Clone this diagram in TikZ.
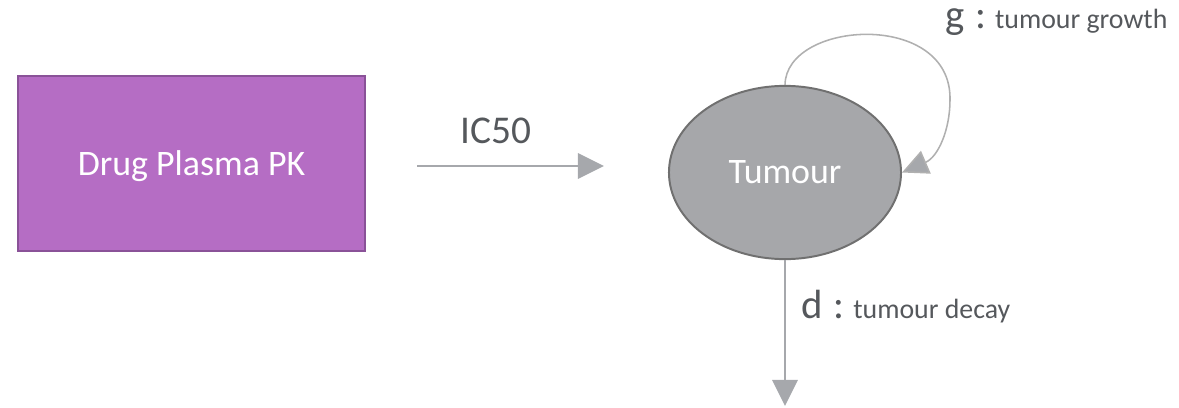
\documentclass[tikz,border=0pt]{standalone}
\usepackage{fontspec}
\setmainfont{Carlito}
\usetikzlibrary{arrows.meta,positioning,shapes.geometric}
\definecolor{pkpurple}{RGB}{181,109,196}
\definecolor{pkpurpledk}{RGB}{138,82,152}
\definecolor{tmgray}{RGB}{166,167,170}
\definecolor{tmgraydk}{RGB}{112,112,112}
\definecolor{flowgray}{RGB}{166,168,172}
\definecolor{loopgray}{RGB}{176,176,176}
\definecolor{txtgray}{RGB}{85,88,92}
\newcommand{\bigtxt}{\fontsize{25.5}{30}\selectfont}
\newcommand{\lbltxt}{\fontsize{29}{34}\selectfont}
\newcommand{\smalltxt}{\fontsize{19.8}{24}\selectfont}
\newcommand{\ratelbl}[2]{{\lbltxt #1}\hspace{8pt}{\lbltxt :}\hspace{6pt}{\smalltxt #2}}
\tikzset{
  pkbox/.style={draw=pkpurpledk, line width=1.4pt, fill=pkpurple, text=white,
                font=\bigtxt, minimum width=8.675cm, minimum height=4.375cm,
                inner sep=0pt, text depth=0pt},
  tumnode/.style={draw=tmgraydk, line width=1.4pt, fill=tmgray, ellipse, text=white,
                  font=\bigtxt, minimum width=5.8cm, minimum height=4.33cm, inner sep=0pt},
  flow/.style={draw=flowgray, line width=#1, -{Triangle[length=18.5pt, width=18pt]}},
  loopflow/.style={draw=loopgray, line width=1.1pt, -{Triangle[length=18.5pt, width=17.5pt, fill=flowgray]}},
  lbl/.style={text=txtgray, inner sep=0pt},
}

\begin{document}
\begin{tikzpicture}[x=0.025cm, y=-0.025cm]
\useasboundingbox (0,0) rectangle (1179,408);

% --- compartments ---
\node[pkbox] (pk) at (191.5,163.5) {Drug Plasma PK};
\node[tumnode] (tumour) at (785,172.5) {Tumour};

% --- IC50 link ---
\coordinate (ic-from) at (417,166);
\coordinate (ic-to) at (604,166);
\draw[flow=1.8pt] (ic-from) -- (ic-to);
\node[lbl, font=\fontsize{28}{32}\selectfont, anchor=base] (ic50) at (496,143) {IC50};

% --- growth loop ---
\coordinate (loop-right) at (950,100);
\draw[loopflow] (tumour.north) .. controls (786,20) and (952,10) .. (loop-right)
  .. controls (950,130) and (938,157) .. (tumour.east);
\node[lbl, anchor=base west] (growth) at (945,28) {\ratelbl{g}{tumour growth}};

% --- decay ---
\coordinate (decay-end) at (785,406);
\draw[flow=1.5pt] (tumour.south) -- (decay-end);
\node[lbl, anchor=base west] (decay) at (801,318) {\ratelbl{d}{tumour decay}};

\end{tikzpicture}
\end{document}
